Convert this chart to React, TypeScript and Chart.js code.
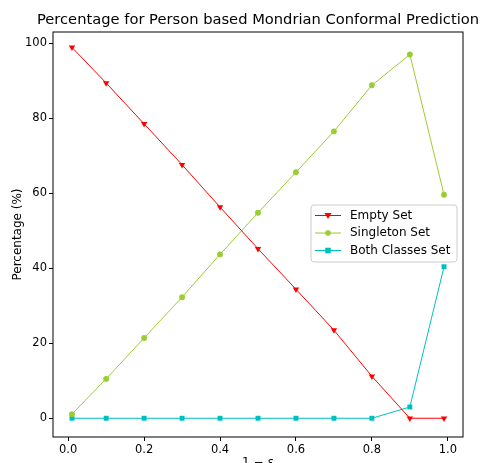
import React, { useEffect, useRef } from "react";
import { Chart, registerables } from "chart.js";

Chart.register(...registerables);

const xValues = [0.01, 0.1, 0.2, 0.3, 0.4, 0.5, 0.6, 0.7, 0.8, 0.9, 0.99];
const emptySet = [98.9, 89.4, 78.5, 67.6, 56.3, 45.2, 34.4, 23.5, 11.2, 0.0, 0.0];
const singletonSet = [1.1, 10.5, 21.4, 32.3, 43.7, 54.8, 65.6, 76.5, 88.8, 97.0, 59.6];
const bothSet = [0.0, 0.0, 0.0, 0.0, 0.0, 0.0, 0.0, 0.0, 0.0, 3.0, 40.4];
const xTicks = [0.0, 0.2, 0.4, 0.6, 0.8, 1.0];
const yTicks = [0, 20, 40, 60, 80, 100];
const seriesNames = ["Empty Set", "Singleton Set", "Both Classes Set"];
const titleText = "Percentage for Person based Mondrian Conformal Prediction";

const FONT = "'DejaVu Sans', sans-serif";

const frameAndLegend = {
  id: "frameAndLegend",
  afterDatasetsDraw(chart: any) {
    const { ctx, chartArea } = chart;
    ctx.save();
    ctx.strokeStyle = "#000";
    ctx.lineWidth = 1;
    ctx.strokeRect(chartArea.left, chartArea.top, chartArea.right - chartArea.left, chartArea.bottom - chartArea.top);

    // title, centred over the plot area
    ctx.fillStyle = "#000";
    ctx.font = `14.7px ${FONT}`;
    ctx.textAlign = "center";
    ctx.textBaseline = "middle";
    ctx.fillText(titleText, (chartArea.left + chartArea.right) / 2, 20.5);

    // legend
    const bx = 311, by = 205, bw = 146, bh = 57;
    ctx.fillStyle = "rgba(255,255,255,0.8)";
    ctx.strokeStyle = "#cccccc";
    ctx.beginPath();
    const r = 3;
    ctx.moveTo(bx + r, by);
    ctx.arcTo(bx + bw, by, bx + bw, by + bh, r);
    ctx.arcTo(bx + bw, by + bh, bx, by + bh, r);
    ctx.arcTo(bx, by + bh, bx, by, r);
    ctx.arcTo(bx, by, bx + bw, by, r);
    ctx.closePath();
    ctx.fill();
    ctx.stroke();
    chart.data.datasets.forEach((ds: any, i: number) => {
      const cy = by + 10.5 + i * 17.5;
      ctx.strokeStyle = ds.borderColor;
      ctx.lineWidth = 1;
      ctx.beginPath();
      ctx.moveTo(315, cy);
      ctx.lineTo(341, cy);
      ctx.stroke();
      ctx.fillStyle = ds.pointBackgroundColor;
      ctx.beginPath();
      const mx = 328;
      if (ds.pointStyle === "triangle") {
        ctx.moveTo(mx - 3.5, cy - 2.5);
        ctx.lineTo(mx + 3.5, cy - 2.5);
        ctx.lineTo(mx, cy + 3.5);
        ctx.closePath();
      } else if (ds.pointStyle === "rect") {
        ctx.rect(mx - 2.8, cy - 2.8, 5.6, 5.6);
      } else {
        ctx.arc(mx, cy, 2.8, 0, Math.PI * 2);
      }
      ctx.fill();
      ctx.fillStyle = "#000";
      ctx.font = `12px ${FONT}`;
      ctx.textBaseline = "middle";
      ctx.textAlign = "left";
      ctx.fillText(ds.label, 350, cy);
    });
    ctx.restore();
  },
};

export default function App() {
  const ref = useRef<HTMLCanvasElement>(null);
  useEffect(() => {
    document.body.style.margin = "0";
    const mk = (ys: number[]) => xValues.map((x, i) => ({ x, y: ys[i] }));
    const chart = new Chart(ref.current!, {
      type: "line",
      data: {
        datasets: [
          {
            label: seriesNames[0],
            data: mk(emptySet),
            borderColor: "#ff0000",
            backgroundColor: "#ff0000",
            pointBackgroundColor: "#ff0000",
            pointBorderWidth: 0,
            pointStyle: "triangle",
            rotation: 180,
            pointRadius: 3.7,
            borderWidth: 1,
          } as any,
          {
            label: seriesNames[1],
            data: mk(singletonSet),
            borderColor: "#9acd32",
            backgroundColor: "#9acd32",
            pointBackgroundColor: "#9acd32",
            pointBorderWidth: 0,
            pointStyle: "circle",
            pointRadius: 2.9,
            borderWidth: 1,
          } as any,
          {
            label: seriesNames[2],
            data: mk(bothSet),
            borderColor: "#00bfbf",
            backgroundColor: "#00bfbf",
            pointBackgroundColor: "#00bfbf",
            pointBorderWidth: 0,
            pointStyle: "rect",
            pointRadius: 3.5,
            borderWidth: 1,
          } as any,
        ],
      },
      options: {
        animation: false,
        responsive: false,
        devicePixelRatio: 1,
        layout: { padding: { top: 32, right: 18, left: 0, bottom: 0 } },
        plugins: {
          legend: { display: false },
          tooltip: { enabled: false },
          title: { display: false },
        },
        scales: {
          x: {
            type: "linear",
            min: -0.04,
            max: 1.04,
            afterFit: (s: any) => { s.height = 26; },
            afterBuildTicks: (s: any) => { s.ticks = xTicks.map((v) => ({ value: v })); },
            grid: { drawOnChartArea: false, drawTicks: true, tickLength: 4, color: "#000" },
            border: { display: false },
            ticks: {
              color: "#000",
              padding: 2,
              maxRotation: 0,
              autoSkip: false,
              font: { family: FONT, size: 11.5 },
              callback: (v: any) => Number(v).toFixed(1),
            },
            title: {
              display: true,
              text: "1 − ε",
              color: "#000",
              font: { family: FONT, size: 12 },
              padding: { top: 0, bottom: -7 },
            },
          },
          y: {
            type: "linear",
            min: -5,
            max: 103,
            afterFit: (s: any) => { s.width = 53; },
            afterBuildTicks: (s: any) => { s.ticks = yTicks.map((v) => ({ value: v })); },
            grid: { drawOnChartArea: false, drawTicks: true, tickLength: 4, color: "#000" },
            border: { display: false },
            ticks: {
              color: "#000",
              padding: 2,
              autoSkip: false,
              font: { family: FONT, size: 11.5 },
            },
            title: {
              display: true,
              text: "Percentage (%)",
              color: "#000",
              font: { family: FONT, size: 12 },
              padding: { top: 11, bottom: 0 },
            },
          },
        },
      },
      plugins: [frameAndLegend],
    });
    return () => chart.destroy();
  }, []);
  return (
    <div style={{ width: 481, height: 463 }}>
      <canvas ref={ref} width={481} height={463} />
    </div>
  );
}
